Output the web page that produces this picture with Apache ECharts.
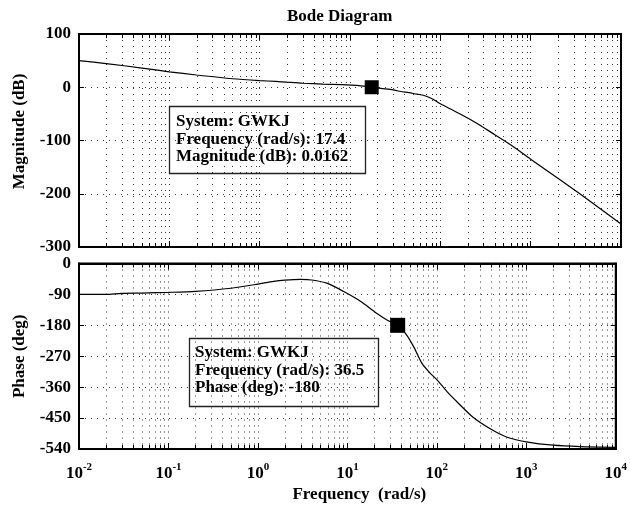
<!DOCTYPE html>
<html><head><meta charset="utf-8">
<script src="https://cdn.jsdelivr.net/npm/echarts@6/dist/echarts.min.js"></script>
<style>html,body{margin:0;padding:0;background:#fff}#c{width:630px;height:506px}</style>
</head><body><div id="c"></div><script>
// ---- data ----
const magFreq = [0.01,0.02,0.05,0.1,0.2,0.5,1,1.5,2,3,5,8,12,17.4,23,30,36.5,45,55,65,80,100,130,170,250,400,600,1000,2000,3500,6000,10000];
const magDb   = [50,44.5,36,29,23,16,12.5,11,9.5,7.5,6,5,3.5,0.0162,-2.5,-5,-8,-10,-13,-15,-21,-31,-41,-51,-67,-89,-108,-135,-171,-200,-229,-257];
const phFreq  = [0.01,0.02,0.03,0.05,0.1,0.2,0.5,1,1.5,2,3,4,6,9,14,21,28,36.5,45,55,68,84,100,130,170,250,400,600,1000,2000,4000,10000];
const phDeg   = [-90,-90,-87,-86,-84,-81,-72,-60,-52,-48.5,-46.5,-48,-58,-81,-110,-144,-165,-180,-205,-242,-290,-319,-338,-373,-404,-446,-482,-505,-519,-529,-533,-535];
const magMarker = [17.4, 0.0162];
const phMarker  = [36.5, -180];
const xTickExp  = [-2,-1,0,1,2,3,4];
const magTicks  = [100,0,-100,-200,-300];
const phTicks   = [0,-90,-180,-270,-360,-450,-540];
const sysName = 'GWKJ';

const FONT = '"Liberation Serif","Times New Roman",serif';
const xMin = Math.pow(10, xTickExp[0]), xMax = Math.pow(10, xTickExp[xTickExp.length-1]);
const minorFreqs = [];
for (let e = xTickExp[0]; e < xTickExp[xTickExp.length-1]; e++) for (let k = 2; k <= 9; k++) minorFreqs.push(k*Math.pow(10,e));

const dotted = {color:'#333', width:1, type:[1,5]};
const labelStyle = {color:'#000', fontSize:17, fontWeight:'bold', fontFamily:FONT};

function xAxes(gi, showLabels) {
  return [{
    type:'log', logBase:10, gridIndex:gi, min:xMin, max:xMax, position:'bottom',
    axisLine:{show:true, onZero:false, lineStyle:{color:'#000', width:2}},
    axisTick:{show:true, inside:true, length:6, lineStyle:{color:'#000'}},
    splitLine:{show:true, lineStyle:dotted},
    axisLabel: showLabels ? {
      show:true, margin:13,
      formatter: v => '{b|10}{s|' + Math.round(Math.log10(v)) + '}',
      rich:{
        b:{fontSize:17, fontWeight:'bold', fontFamily:FONT, color:'#000', lineHeight:24},
        s:{fontSize:11, fontWeight:'bold', fontFamily:FONT, color:'#000', verticalAlign:'top', lineHeight:12}
      }
    } : {show:false},
    name: showLabels ? 'Frequency  (rad/s)' : '',
    nameLocation:'middle', nameGap:37,
    nameTextStyle:{...labelStyle, padding:[0,0,0,24]}
  },{
    type:'log', logBase:10, gridIndex:gi, min:xMin, max:xMax, position:'top',
    axisLine:{show:true, onZero:false, lineStyle:{color:'#000', width:2}},
    axisTick:{show:true, inside:true, length:6, lineStyle:{color:'#000'}},
    splitLine:{show:false}, axisLabel:{show:false}
  }];
}
function yAxes(gi, ticks, name, pad) {
  const mn = ticks[ticks.length-1], mx = ticks[0], iv = ticks[0]-ticks[1];
  return [{
    type:'value', gridIndex:gi, min:mn, max:mx, interval:iv, position:'left',
    axisLine:{show:true, onZero:false, lineStyle:{color:'#000', width:2}},
    axisTick:{show:true, inside:true, length:5, lineStyle:{color:'#000'}},
    splitLine:{show:true, lineStyle:dotted},
    axisLabel:{...labelStyle, margin:8},
    name:name, nameLocation:'middle', nameGap:51,
    nameTextStyle:{...labelStyle, padding:pad}
  },{
    type:'value', gridIndex:gi, min:mn, max:mx, interval:iv, position:'right',
    axisLine:{show:true, onZero:false, lineStyle:{color:'#000', width:2}},
    axisTick:{show:true, inside:true, length:5, lineStyle:{color:'#000'}},
    splitLine:{show:false}, axisLabel:{show:false}
  }];
}
function minorGrid(xi, yi) {
  return {
    type:'custom', xAxisIndex:xi, yAxisIndex:yi, silent:true, z:1,
    data: minorFreqs.map(f => [f, 0]), encode:{x:0, y:1},
    renderItem:(params, api) => {
      const cs = params.coordSys;
      const x = Math.round(api.coord([api.value(0), 0])[0]) + 0.5;
      return {type:'group', children:[
        {type:'line', shape:{x1:x,y1:cs.y,x2:x,y2:cs.y+cs.height}, style:{stroke:'#333', lineWidth:1, lineDash:[1,5]}},
        {type:'line', shape:{x1:x,y1:cs.y,x2:x,y2:cs.y+4}, style:{stroke:'#000', lineWidth:1}},
        {type:'line', shape:{x1:x,y1:cs.y+cs.height-4,x2:x,y2:cs.y+cs.height}, style:{stroke:'#000', lineWidth:1}}
      ]};
    }
  };
}

const chart = echarts.init(document.getElementById('c'), null, {renderer:'canvas'});
const box1 = {x:169, y:106, w:196, h:67};
const box2 = {x:189, y:338, w:189, h:68};
chart.setOption({
  animation:false,
  backgroundColor:'#fff',
  title:{text:'Bode Diagram', left:287, top:8, padding:0,
    textStyle:{...labelStyle}},
  grid:[
    {left:79, top:34, width:542, height:213, show:true, borderColor:'#000', borderWidth:2, backgroundColor:'transparent'},
    {left:79, top:263.5, width:542, height:185.5, show:true, borderColor:'#000', borderWidth:2, backgroundColor:'transparent'}
  ],
  xAxis:[...xAxes(0,false), ...xAxes(1,true)],
  yAxis:[...yAxes(0, magTicks, 'Magnitude (dB)', [0,0,0,18]), ...yAxes(1, phTicks, 'Phase (deg)', [0,0,0,0])],
  series:[
    minorGrid(0,0), minorGrid(2,2),
    {type:'line', xAxisIndex:0, yAxisIndex:0, data:magFreq.map((f,i)=>[f,magDb[i]]),
      symbol:'none', smooth:0.25, lineStyle:{color:'#000', width:1.2}, z:3},
    {type:'line', xAxisIndex:2, yAxisIndex:2, data:phFreq.map((f,i)=>[f,phDeg[i]]),
      symbol:'none', smooth:0.25, lineStyle:{color:'#000', width:1.2}, z:3},
    {type:'scatter', xAxisIndex:0, yAxisIndex:0, data:[magMarker], symbol:'rect', symbolSize:14,
      itemStyle:{color:'#000', opacity:1}, z:5},
    {type:'scatter', xAxisIndex:2, yAxisIndex:2, data:[phMarker], symbol:'rect', symbolSize:15,
      itemStyle:{color:'#000', opacity:1}, z:5}
  ],
  graphic:[
    {type:'rect', shape:{x:box1.x+0.5, y:box1.y+0.5, width:box1.w, height:box1.h}, style:{fill:'none', stroke:'#222', lineWidth:1.3}, z:10},
    {type:'text', x:box1.x+7, y:box1.y+7, z:10, style:{
      text:'System: '+sysName+'\nFrequency (rad/s): '+magMarker[0]+'\nMagnitude (dB): '+magMarker[1],
      font:'bold 17px '+FONT, lineHeight:17.5, fill:'#000'}},
    {type:'rect', shape:{x:box2.x+0.5, y:box2.y+0.5, width:box2.w, height:box2.h}, style:{fill:'none', stroke:'#222', lineWidth:1.3}, z:10},
    {type:'text', x:box2.x+6, y:box2.y+6, z:10, style:{
      text:'System: '+sysName+'\nFrequency (rad/s): '+phMarker[0]+'\nPhase (deg): '+phMarker[1],
      font:'bold 17px '+FONT, lineHeight:17.5, fill:'#000'}}
  ]
});
</script></body></html>
